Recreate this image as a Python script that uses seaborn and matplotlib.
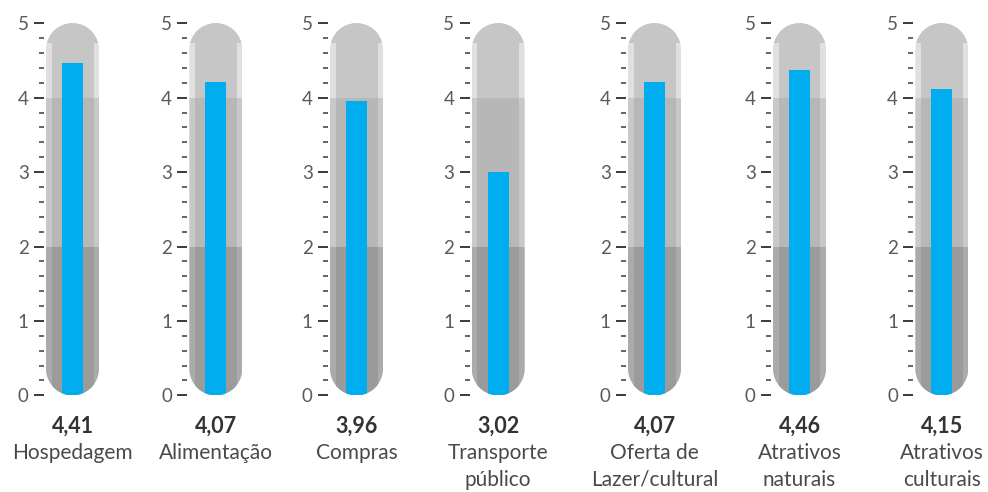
import numpy as np
import matplotlib
matplotlib.use("Agg")
import matplotlib.pyplot as plt
from matplotlib.patches import Polygon, Rectangle
import seaborn as sns

# data
categories = ["Hospedagem", "Alimentação", "Compras", "Transporte\npúblico",
              "Oferta de\nLazer/cultural", "Atrativos\nnaturais", "Atrativos\nculturais"]
score_labels = ["4,41", "4,07", "3,96", "3,02", "4,07", "4,46", "4,15"]
bar_heights = [4.47, 4.21, 3.96, 3.00, 4.21, 4.37, 4.12]
bands = [(0, 2), (2, 4), (4, 5)]

sns.set_style("white")
plt.rcParams['font.family'] = ['Lato', 'DejaVu Sans']

W, H = 988, 492
fig = plt.figure(figsize=(W / 100, H / 100), dpi=100)

# layout in pixels
tube_left = [46, 189.3, 330, 471.7, 628, 773, 915.3]
tube_w = 53.0
y_top, y_zero = 23.3, 395.3
px_per_unit = (y_zero - y_top) / 5

edge_cols = ["#ababab", "#c8c8c8", "#e0e0e0"]
inner_cols = ["#9b9b9b", "#b7b7b7", "#c6c6c6"]
blue = "#00aeef"

ry = (tube_w / 2) / px_per_unit   # cap radius in y units
inset = 5.5 / tube_w              # light rim, x units

for i, cat in enumerate(categories):
    ax = fig.add_axes([tube_left[i] / W, 1 - y_zero / H,
                       tube_w / W, (y_zero - y_top) / H])

    t1 = np.linspace(0, np.pi, 60)
    t2 = np.linspace(np.pi, 2 * np.pi, 60)
    pts = np.vstack([
        np.column_stack([0.5 * np.cos(t1), 5 - ry + ry * np.sin(t1)]),
        np.column_stack([0.5 * np.cos(t2), ry + ry * np.sin(t2)]),
    ])
    tube = Polygon(pts, closed=True, fc="none", ec="none")
    ax.add_patch(tube)

    for (lo, hi), ec, ic in zip(bands, edge_cols, inner_cols):
        r1 = Rectangle((-0.5, lo), 1, hi - lo, fc=ec, ec="none")
        r2 = Rectangle((-0.5 + inset, lo), 1 - 2 * inset, hi - lo, fc=ic, ec="none")
        for r in (r1, r2):
            ax.add_patch(r)
            r.set_clip_path(tube)
    cap = Rectangle((-0.5, 5 - ry * 0.75), 1, ry, fc=inner_cols[2], ec="none")
    ax.add_patch(cap)
    cap.set_clip_path(tube)

    sns.barplot(x=[cat], y=[bar_heights[i]], color=blue, saturation=1,
                width=21 / tube_w, edgecolor="none", linewidth=0, ax=ax)
    for bar in ax.containers[0]:
        bar.set_clip_path(tube)

    ax.set_xlim(-0.5, 0.5)
    ax.set_ylim(0, 5)
    ax.set_xticks([])
    ax.set_xlabel("")
    ax.set_ylabel("")
    ax.set_yticks(range(6))
    ax.set_yticks(np.arange(0, 5.01, 0.2), minor=True)
    for s in ax.spines.values():
        s.set_visible(False)
    ax.spines['left'].set_position(('outward', 1.5))
    ax.tick_params(axis='y', which='major', left=True, length=7.5, width=1.4,
                   color="#3a3a3a", pad=3.5, labelsize=13.5, labelcolor="#5a5a5a")
    ax.tick_params(axis='y', which='minor', left=True, length=3.6, width=1.1,
                   color="#3a3a3a")

    cx = (tube_left[i] + tube_w / 2) / W
    fig.text(cx, 1 - 433 / H, score_labels[i], ha='center', va='baseline',
             fontsize=15.5, fontweight='bold', color="#333333")
    for k, line in enumerate(cat.split("\n")):
        fig.text(cx, 1 - (459 + 26.5 * k) / H, line, ha='center', va='baseline',
                 fontsize=15, color="#4a4a4a")

fig.savefig("out.png", dpi=100)
